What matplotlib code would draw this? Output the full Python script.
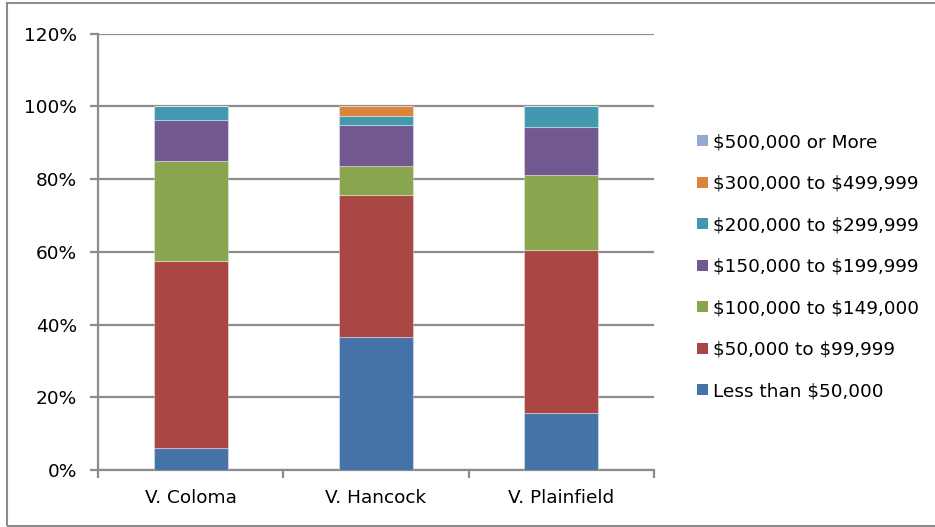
import matplotlib
matplotlib.use("Agg")
import matplotlib.pyplot as plt
from matplotlib.patches import Rectangle, Patch
import numpy as np

plt.rcParams['font.family'] = ['DejaVu Sans']
plt.rcParams['text.parse_math'] = False

categories = ["V. Coloma", "V. Hancock", "V. Plainfield"]
series_labels = [
    "Less than $50,000",
    "$50,000 to $99,999",
    "$100,000 to $149,000",
    "$150,000 to $199,999",
    "$200,000 to $299,999",
    "$300,000 to $499,999",
    "$500,000 or More",
]
less_50k = [6.0, 36.7, 15.8]
k50_100 = [51.4, 39.0, 44.7]
k100_150 = [27.6, 7.9, 20.7]
k150_200 = [11.4, 11.2, 13.2]
k200_300 = [3.6, 2.6, 5.6]
k300_500 = [0.0, 2.6, 0.0]
k500_more = [0.0, 0.0, 0.0]
series_values = [less_50k, k50_100, k100_150, k150_200, k200_300, k300_500, k500_more]
colors = ["#4572A7", "#AA4643", "#89A54E", "#71588F", "#4198AF", "#DB843D", "#93A9CF"]
y_ticks = [0, 20, 40, 60, 80, 100, 120]
y_tick_labels = ["0%", "20%", "40%", "60%", "80%", "100%", "120%"]

FS = 13.3
W, H = 935, 527
fig = plt.figure(figsize=(W / 100, H / 100), dpi=100)
ax = fig.add_axes([98 / W, (H - 470) / H, (654 - 98) / W, (470 - 33.7) / H])

x = np.arange(len(categories))
bottom = np.zeros(len(categories))
handles = []
for vals, col, lab in zip(series_values, colors, series_labels):
    v = np.array(vals)
    ax.bar(x, v, width=0.4, bottom=bottom, color=col, edgecolor=(1, 1, 1, 0.35),
           linewidth=0.8, zorder=3)
    handles.append(Patch(facecolor=col, edgecolor='none', label=lab))
    bottom += v

grid_col = "#8C8C8C"
ax.set_ylim(0, 120)
ax.set_xlim(-0.5, len(categories) - 0.5)
ax.set_yticks(y_ticks)
ax.set_yticklabels(y_tick_labels)
ax.yaxis.grid(True, color=grid_col, linewidth=1.6, zorder=0)
ax.set_axisbelow(True)

ax.set_xticks(x)
ax.set_xticklabels(categories)
ax.set_xticks(np.arange(-0.5, len(categories)), minor=True)
ax.tick_params(axis='x', which='major', length=0, pad=14, labelsize=FS, colors='#000000')
ax.tick_params(axis='x', which='minor', length=6, width=1.6, color=grid_col, direction='out')
ax.tick_params(axis='y', length=6, width=1.6, color=grid_col, pad=9, labelsize=FS)

for side in ['top', 'right']:
    ax.spines[side].set_visible(False)
for side in ['left', 'bottom']:
    ax.spines[side].set_color(grid_col)
    ax.spines[side].set_linewidth(1.6)

leg = fig.legend(handles=handles[::-1], loc='upper left',
                 bbox_to_anchor=(690 / W, 1 - 126 / H), frameon=False,
                 fontsize=FS, handlelength=0.55, handleheight=0.55,
                 handletextpad=0.3, labelspacing=1.27, borderaxespad=0)

# outer chart frame
fig.patches.append(Rectangle((7 / W, 1 - 526 / H), 1.0, (526 - 3) / H,
                             transform=fig.transFigure, fill=False,
                             edgecolor="#8C8C8C", linewidth=1.5))

fig.savefig("out.png", dpi=100)
